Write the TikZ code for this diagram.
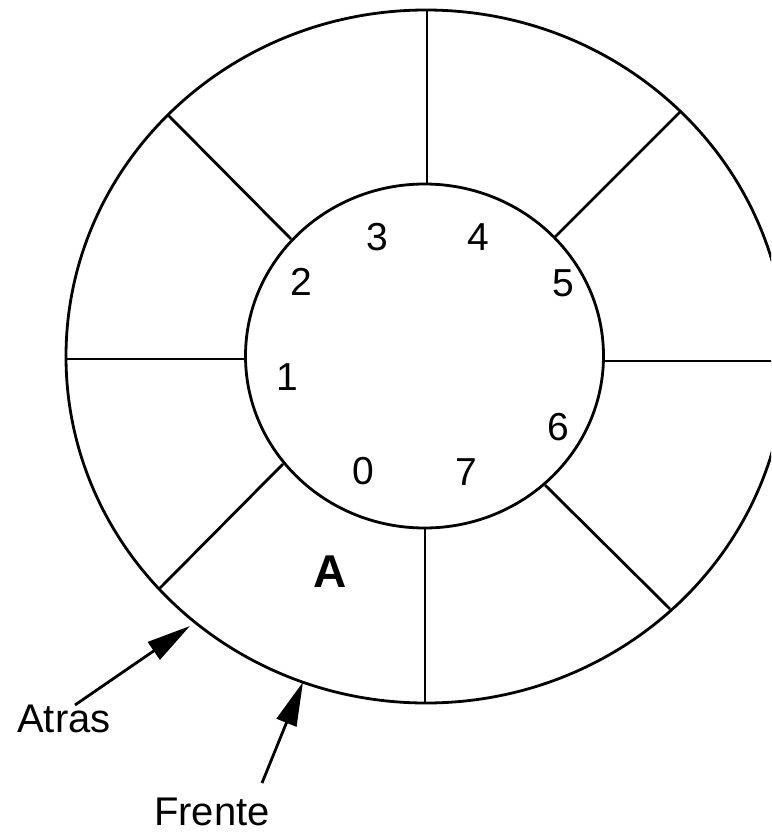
\documentclass[tikz,border=0pt]{standalone}
\usepackage{fontspec}
\setmainfont{Liberation Sans}
\usetikzlibrary{arrows.meta}
\tikzset{
  ring/.style={line width=2.8pt, black},
  spoke/.style={line width=2.8pt, black},
  idx/.style={inner sep=0pt, font=\fontsize{39}{44}\selectfont},
  lbl/.style={inner sep=0pt, font=\fontsize{40}{46}\selectfont},
  content/.style={inner sep=0pt, font=\fontsize{46}{52}\selectfont\bfseries},
  pointer/.style={line width=2.8pt, -{Triangle[length=44pt, width=21pt]}, shorten >=0pt}
}
\begin{document}
\begin{tikzpicture}[x=1pt, y=-1pt]
\useasboundingbox (0,0) rectangle (771,832);
\clip (0,0) rectangle (771,832);
% rings
\draw[ring] (426,356.5) ellipse [x radius=360, y radius=346.5];
\draw[ring] (424.5,356) ellipse [x radius=179, y radius=172];
% spoke end points
\coordinate (Ti) at (427,184);  \coordinate (To) at (427,10);
\coordinate (Bi) at (425,528);  \coordinate (Bo) at (425,703);
\coordinate (Li) at (245,359);  \coordinate (Lo) at (66,359);
\coordinate (Ri) at (603,361);  \coordinate (Ro) at (790,361);
\coordinate (ULi) at (291,239); \coordinate (ULo) at (168,115);
\coordinate (URi) at (555,237); \coordinate (URo) at (680,112);
\coordinate (LLi) at (283,464); \coordinate (LLo) at (160,588);
\coordinate (LRi) at (545,485); \coordinate (LRo) at (670,609);
\draw[spoke] (Ti) -- (To);
\draw[spoke] (Bi) -- (Bo);
\draw[spoke] (Li) -- (Lo);
\draw[spoke] (Ri) -- (Ro);
\draw[spoke] (ULi) -- (ULo);
\draw[spoke] (URi) -- (URo);
\draw[spoke] (LLi) -- (LLo);
\draw[spoke] (LRi) -- (LRo);
% slot indices
\node[idx] (n0) at (363,471) {0};
\node[idx] (n1) at (287,377) {1};
\node[idx] (n2) at (301,282) {2};
\node[idx] (n3) at (377,237) {3};
\node[idx] (n4) at (478,237) {4};
\node[idx] (n5) at (563,283) {5};
\node[idx] (n6) at (558,427) {6};
\node[idx] (n7) at (466,472) {7};
% content
\node[content, anchor=base] (cA) at (330,587) {A};
% labels
\node[lbl, anchor=base west] (atras) at (17,732) {Atras};
\node[lbl, anchor=base west] (frente) at (154,825) {Frente};
\coordinate (atrasTail) at (75,705);
\coordinate (atrasTip) at (190,626);
\coordinate (frenteTail) at (262,783);
\coordinate (frenteTip) at (303,682);
\draw[pointer] (atrasTail) -- (atrasTip);
\draw[pointer] (frenteTail) -- (frenteTip);
\end{tikzpicture}
\end{document}
